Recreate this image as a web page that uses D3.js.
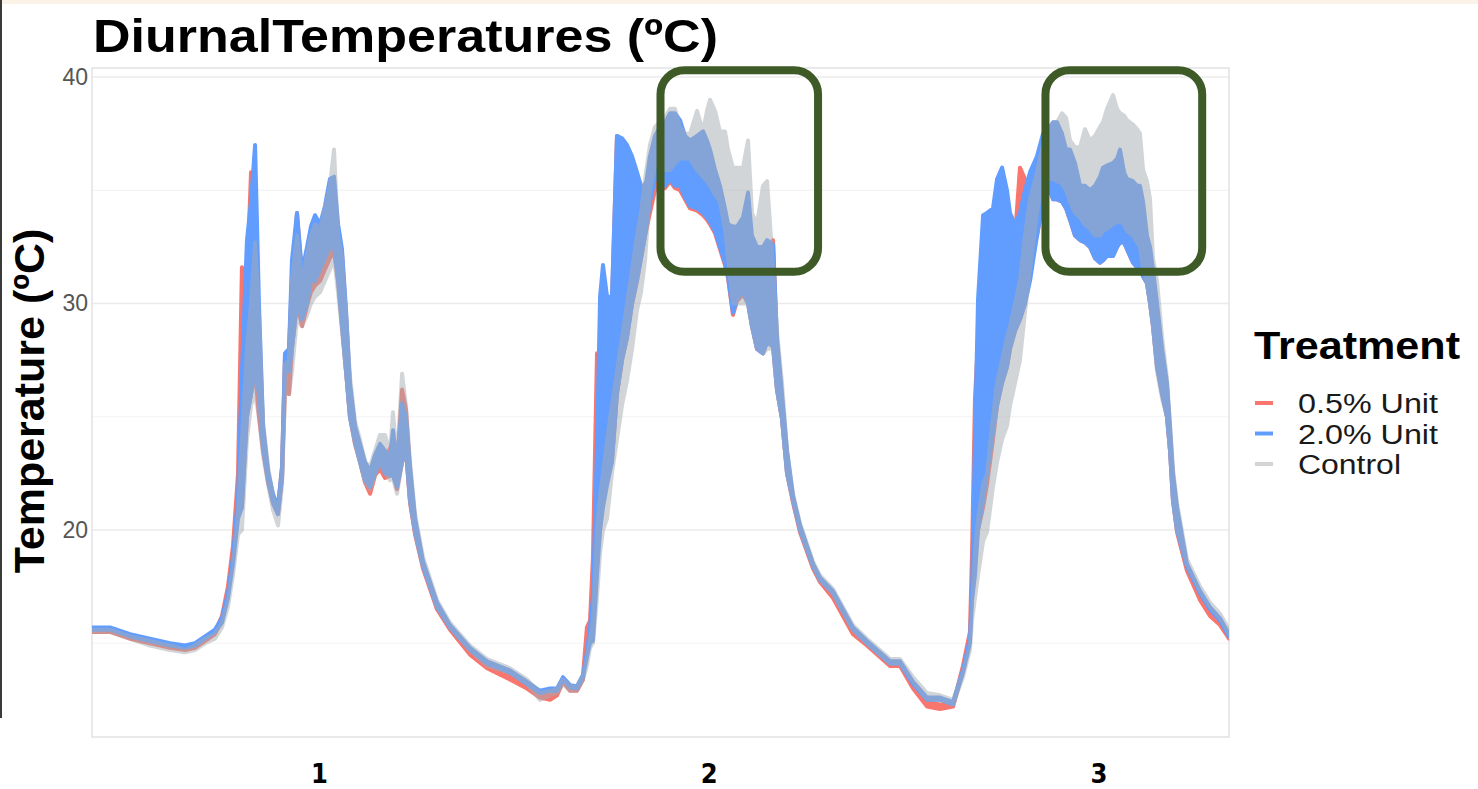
<!DOCTYPE html>
<html>
<head>
<meta charset="utf-8">
<script src="https://cdn.jsdelivr.net/npm/d3@7"></script>
<style>
  body { margin: 0; background: #fff; }
  svg { display: block; font-family: "Liberation Sans", Arial, Helvetica, sans-serif; }
</style>
</head>
<body>
<svg id="chart"></svg>
<script>
// hours since start of logging (x axis)
const hours = [
  0, 1.11, 2.34, 3.57, 4.80, 5.73, 6.34, 6.96, 7.57, 8.00, 8.37, 8.68, 8.99,
  9.23, 9.54, 9.79, 10.04, 10.28, 10.53, 10.84, 11.14, 11.45, 11.70,
  11.88, 12.13, 12.31, 12.62, 12.93, 13.24, 13.48, 13.73, 14.04, 14.34,
  14.65, 14.90, 15.15, 15.39, 15.64, 15.88, 16.19, 16.50, 16.81, 17.12,
  17.42, 17.73, 18.04, 18.35, 18.53, 18.78, 19.09, 19.33, 19.58, 19.89,
  20.38, 21.24, 22.04, 23.27, 24.32, 25.73, 26.78, 27.58, 28.20, 28.63,
  29.00, 29.43, 29.86, 30.23, 30.47, 30.66, 30.84, 31.09, 31.28, 31.46,
  31.71, 32.01, 32.32, 32.63, 32.94, 33.25, 33.55, 33.80, 34.05, 34.35,
  34.66, 34.97, 35.28, 35.59, 35.89, 36.20, 36.51, 36.82, 37.25, 37.62,
  37.86, 38.05, 38.36, 38.66, 38.97, 39.16, 39.46, 39.71, 40.08, 40.39,
  40.63, 40.94, 41.31, 41.56, 41.93, 42.17, 42.48, 42.79, 43.16, 43.59,
  44.39, 44.82, 45.62, 46.85, 47.71, 49.13, 49.75, 50.55, 51.41, 52.21,
  53.01, 53.62, 54.05, 54.18, 54.36, 54.55, 54.86, 55.10, 55.47, 55.72,
  56.03, 56.33, 56.52, 56.83, 57.13, 57.44, 57.75, 58.18, 58.55, 58.98,
  59.17, 59.41, 59.72, 59.97, 60.21, 60.52, 60.83, 61.13, 61.44, 61.75,
  62.06, 62.24, 62.49, 62.86, 63.11, 63.29, 63.54, 63.72, 64.09, 64.34,
  64.52, 64.71, 64.95, 65.14, 65.32, 65.57, 65.88, 66.18, 66.37, 66.55,
  66.80, 67.41, 68.22, 68.83, 69.45, 70.00
];

// 0.5% Unit - lowest / highest reading at each time
const unit05Lo = [
  15.5, 15.5, 15.2, 15.0, 14.8, 14.7, 14.8, 15.1, 15.4, 16.0, 17.2, 18.8, 21.5,
  21, 25, 26, 27, 25, 23.5, 22.1, 21.2, 20.7, 22.3,
  26.2, 26, 28, 30, 29, 29.9, 30.5, 30.8, 31, 31.5,
  32, 32.3, 31, 29, 27, 25, 23.8, 23, 22.1, 21.6,
  22.4, 22.7, 22.3, 22.4, 22.5, 21.8, 23, 23.5, 21.2, 19.8,
  18.3, 16.5, 15.6, 14.5, 13.9, 13.4, 13.0, 12.6, 12.5, 12.7,
  13.3, 12.9, 12.9, 13.4, 15.5, 15.7, 15.7, 18.8, 20, 22,
  22.5, 23, 26, 27.5, 28.5, 30, 31, 32, 33, 34,
  35, 35.3, 35.1, 35.4, 35.1, 35.0, 34.6, 34.2, 34.1, 33.9,
  33.7, 33.5, 33.1, 32.4, 31.7, 31.1, 29.5, 30.1, 30.4, 30,
  29, 28, 27.8, 28.3, 28.1, 26.2, 24.9, 22.5, 21.2, 19.9,
  18.3, 17.7, 17.0, 15.4, 14.9, 14.0, 14.0, 13.0, 12.2, 12.1,
  12.2, 13.8, 15.2, 17.5, 19, 20, 21, 22, 24, 25.5,
  26.5, 27.2, 28, 28.8, 29.3, 30, 32, 33, 34.5, 35,
  34.6, 34.6, 34.5, 34.2, 33.7, 33, 32.8, 32.7, 32.5, 32,
  31.8, 31.9, 32.1, 32.1, 32.5, 32.7, 32.7, 32.4, 31.8, 31.6,
  31.5, 31.2, 30.9, 30, 29, 27.2, 26, 25, 23.5, 21.3,
  19.9, 18.2, 16.9, 16.2, 15.8, 15.2
];
const unit05Hi = [
  15.6, 15.6, 15.3, 15.1, 14.9, 14.8, 14.9, 15.2, 15.5, 16.2, 17.5, 19.3, 22.5,
  31.6, 31, 35.8, 33, 29, 24.5, 22.5, 21.5, 21.0, 22.8,
  27.6, 28, 31, 34, 31, 31.5, 32.5, 32.8, 32.8, 33.5,
  34, 34.5, 33, 32.2, 29.5, 26.3, 24.5, 23.6, 22.8, 22.4,
  23.1, 23.5, 23.2, 23.6, 24, 22.8, 26.2, 25.3, 22.6, 20.4,
  18.5, 16.7, 15.7, 14.7, 14.1, 13.6, 13.2, 12.8, 12.7, 12.9,
  13.4, 13.0, 13.0, 13.6, 15.7, 16.0, 18.8, 27.8, 27.8, 30,
  30, 30, 37.4, 37, 36, 35.5, 35.5, 35, 35.3, 35.5,
  36, 35.8, 35.4, 35.7, 35.4, 35.3, 34.9, 34.5, 34.4, 34.2,
  34, 33.8, 33.4, 32.7, 32, 31.4, 31, 31.5, 32, 33,
  31, 30, 30, 31, 32.8, 28.3, 25.8, 23.3, 21.4, 20.1,
  18.5, 17.8, 17.1, 15.5, 15.0, 14.1, 14.1, 13.2, 12.4, 12.3,
  12.3, 14.0, 15.5, 19, 25.8, 28.4, 33, 32, 33, 34,
  34.5, 34, 33.5, 33, 36, 35.5, 34, 35, 35.5, 36,
  35.5, 35.3, 35, 34.6, 34.2, 33.5, 33.2, 33.1, 32.9, 32.4,
  32.2, 32.3, 32.5, 32.5, 32.9, 33.1, 33.1, 32.8, 32.2, 32,
  31.9, 31.6, 31.3, 31, 30.5, 29.5, 27.8, 26.3, 24.3, 22.3,
  20.8, 18.4, 17.1, 16.4, 15.9, 15.3
];

// 2.0% Unit
const unit20Lo = [
  15.6, 15.6, 15.3, 15.1, 14.9, 14.8, 14.9, 15.2, 15.5, 15.9, 17.0, 18.5, 20.5,
  21, 25, 26, 27, 26, 23.6, 22.2, 21.2, 20.7, 22.3,
  27.2, 27, 28, 30, 29.3, 30, 31, 31, 31.5, 32,
  32.5, 32.5, 31, 29, 27, 25, 23.9, 23, 22.2, 21.9,
  22.5, 23, 22.5, 22.4, 22.4, 21.9, 23, 23.5, 21.3, 19.9,
  18.4, 16.6, 15.7, 14.7, 14.1, 13.7, 13.2, 12.8, 12.9, 12.9,
  13.4, 13.05, 13.0, 13.5, 14.4, 15.0, 15.1, 18, 20, 21,
  22, 23, 26, 27.5, 28.5, 30, 31, 32, 33, 34.5,
  35.5, 35.5, 35.2, 35.5, 35.2, 35.2, 34.7, 34.3, 34.2, 34,
  33.8, 33.6, 33.2, 32.5, 31.8, 31.2, 29.6, 30.2, 30.5, 30,
  29, 28, 27.8, 28.3, 28.1, 26.2, 24.9, 22.5, 21.3, 20,
  18.4, 17.8, 17.2, 15.6, 15.0, 14.1, 14.1, 13.2, 12.5, 12.5,
  12.3, 13.7, 15.0, 16.9, 18, 20, 21.3, 22.5, 24.3, 25.5,
  26.5, 27.2, 28, 28.8, 29.3, 30, 31, 33, 34.5, 35,
  34.6, 34.6, 34.5, 34.2, 33.7, 33, 32.8, 32.7, 32.5, 32,
  31.8, 31.9, 32.1, 32.1, 32.5, 32.7, 32.7, 32.4, 31.8, 31.6,
  31.5, 31.2, 30.9, 30, 29, 27.2, 26, 25, 23.5, 21.3,
  20, 18.4, 17.2, 16.5, 16.0, 15.3
];
const unit20Hi = [
  15.7, 15.7, 15.4, 15.2, 15.0, 14.9, 15.0, 15.3, 15.6, 16.1, 17.2, 18.8, 21.5,
  27, 32.8, 34.5, 37.0, 30, 24.6, 22.6, 21.6, 21.0, 22.8,
  27.8, 28, 31.9, 34, 31.4, 32.5, 33.4, 33.9, 33.5, 34.3,
  35.5, 35.6, 33.5, 32.4, 29.7, 26.5, 24.6, 23.8, 23, 22.6,
  23.3, 23.8, 23.5, 23.2, 24.4, 23, 25.6, 25, 22.8, 20.5,
  18.6, 16.8, 15.8, 14.8, 14.2, 13.8, 13.3, 12.9, 13.0, 13.0,
  13.5, 13.15, 13.1, 13.6, 14.6, 15.7, 17, 23.7, 30.3, 31.7,
  30.3, 30.3, 37.4, 37.3, 37, 36.5, 35.8, 35.2, 35.0, 36.5,
  37.4, 37.8, 38.0, 38.4, 38.4, 38.1, 37.4, 37.2, 37.4, 37.6,
  37.2, 36.8, 35.9, 35.2, 34.2, 33.5, 33.4, 33.4, 33.8, 34.9,
  33, 32.5, 32.5, 32.8, 32.6, 28.5, 26, 23.5, 21.5, 20.2,
  18.5, 17.9, 17.3, 15.7, 15.1, 14.2, 14.2, 13.3, 12.6, 12.6,
  12.4, 13.8, 15.2, 17.2, 24, 30.2, 33.9, 34, 34.2, 35.5,
  36, 35, 34, 33.5, 34, 35, 35.8, 36.5, 37.5, 37.8,
  38, 38, 37.5, 36.8, 36.8, 36.2, 35.2, 35.2, 35, 35.2,
  35.6, 36, 36.1, 36.2, 36.4, 36.8, 35.8, 35.5, 35.4, 35.2,
  35.2, 34.5, 33, 32.5, 31.5, 30, 28, 26.5, 24.5, 22.5,
  21, 18.5, 17.3, 16.6, 16.1, 15.4
];

// Control
const controlLo = [
  15.5, 15.5, 15.2, 14.9, 14.7, 14.6, 14.7, 15.0, 15.2, 15.7, 16.6, 18.0, 19.8,
  20, 24, 25.5, 26, 25, 23.3, 22, 20.9, 20.2, 22,
  26, 26, 27, 29.3, 29, 29.5, 30, 30.3, 30.5, 31,
  31.5, 32, 30.5, 28.8, 27, 25, 23.8, 23, 22.1, 21.8,
  22.4, 23, 22.5, 22.2, 22.3, 21.6, 23, 23.5, 21.3, 19.9,
  18.4, 16.6, 15.7, 14.7, 14.0, 13.7, 13.2, 12.5, 12.7, 12.8,
  13.2, 12.9, 12.9, 13.4, 14.0, 14.8, 15.0, 17, 19, 20,
  20.5, 22.5, 24, 25.5, 26.6, 28, 29.7, 30.5, 31.9, 35,
  36, 36.5, 35.9, 35.9, 36.2, 36.4, 36.4, 36.4, 35.9, 35.6,
  35.4, 35.2, 34.8, 34.5, 33.3, 32, 30, 30, 30, 30,
  29, 28, 27.8, 28, 28, 26.2, 24.9, 22.5, 21.3, 20,
  18.4, 17.8, 17.2, 15.6, 15.0, 14.1, 14.1, 13.3, 12.5, 12.5,
  12.3, 13.5, 14.7, 16.0, 17, 18, 19.5, 19.9, 21.9, 23,
  24, 24.6, 25.5, 26.5, 27.5, 29.6, 31.5, 34, 35.5, 35.5,
  35.5, 35.4, 35.3, 35, 34.5, 34, 33.8, 33.5, 33.3, 33,
  33, 33.2, 33.3, 33.5, 33.6, 33.6, 33.5, 33.2, 33, 32.7,
  32.5, 31.5, 30.9, 30, 29, 27, 25.8, 25, 23.5, 21.3,
  20, 18.5, 17.3, 16.6, 16.1, 15.4
];
const controlHi = [
  15.6, 15.6, 15.3, 15.1, 14.9, 14.7, 14.9, 15.2, 15.4, 15.9, 16.9, 18.4, 20.8,
  24, 28, 30, 32.7, 29.5, 24.8, 22.8, 21.5, 20.8, 22.5,
  27.3, 27.5, 31, 33, 31, 32.2, 33, 33.5, 33.3, 34.2,
  35.2, 36.8, 33, 32, 29.5, 26.8, 24.8, 24, 23, 22.8,
  23.5, 24.2, 24.2, 23.4, 25.2, 23, 26.9, 25.5, 23, 20.7,
  18.8, 16.9, 15.9, 14.9, 14.3, 13.9, 13.4, 12.8, 12.9, 13.0,
  13.4, 13.1, 13.1, 13.6, 14.3, 15.2, 16, 20, 21.5, 22.5,
  24, 25.5, 27, 28.5, 30, 31.5, 33, 34, 35.5, 37,
  37.8, 38, 38.2, 38.6, 38.6, 37.8, 37.5, 37.5, 38.5, 37.6,
  38.5, 39, 38.5, 37.6, 37.6, 36.8, 36, 36, 36, 37.2,
  34, 33.5, 35.2, 35.4, 31.6, 28.8, 26.5, 23.5, 21.6, 20.3,
  18.6, 18.0, 17.4, 15.8, 15.2, 14.3, 14.3, 13.5, 12.8, 12.7,
  12.5, 13.7, 14.9, 16.4, 19, 20.5, 22, 22.5, 25, 26.5,
  27.5, 28.5, 29, 30, 31, 33, 34.6, 35.8, 37, 37.8,
  38, 38, 38.4, 38.2, 37.2, 36.9, 36.9, 37.7, 37.2, 37.4,
  37.8, 38, 38.6, 39.2, 38.6, 38.4, 38.3, 38.1, 37.9, 37.7,
  37.5, 35.9, 35.4, 34.6, 32, 31, 28.5, 26.7, 24.7, 22.7,
  21.2, 18.7, 17.5, 16.8, 16.3, 15.6
];

const treatments = ["0.5% Unit", "2.0% Unit", "Control"];
const yTicks = [20, 30, 40];
const yMinorTicks = [15, 25, 35];
const dayLabels = ["1", "2", "3"];
const dayHours = [14, 38, 62];
// hot afternoon windows that were boxed on the slide (hours / degrees)
const boxHours = [[35.0, 44.7], [58.7, 68.35]];
const boxTemps = [31.4, 40.3];

const width = 1478, height = 789;
const margin = { top: 68, right: 249, bottom: 52, left: 92 };

const svg = d3.select("#chart").attr("width", width).attr("height", height);

const x = d3.scaleLinear().domain([0, 70]).range([margin.left, width - margin.right]);
const y = d3.scaleLinear().domain([10.86, 40.4]).range([height - margin.bottom, margin.top]);

// slide edges
svg.append("rect").attr("x", 0).attr("y", 0).attr("width", width).attr("height", 4).attr("fill", "#fcf3e8");
svg.append("rect").attr("x", 0).attr("y", 0).attr("width", 2).attr("height", 718).attr("fill", "#3a3a3a");

// panel + grid
svg.append("g").selectAll("line").data(yMinorTicks).join("line")
  .attr("x1", x(0)).attr("x2", x(70))
  .attr("y1", d => y(d)).attr("y2", d => y(d))
  .attr("stroke", "#f3f3f3").attr("stroke-width", 1.2);
svg.append("g").selectAll("line").data(yTicks).join("line")
  .attr("x1", x(0)).attr("x2", x(70))
  .attr("y1", d => y(d)).attr("y2", d => y(d))
  .attr("stroke", "#ebebeb").attr("stroke-width", 1.5);
svg.append("rect")
  .attr("x", x(0)).attr("y", margin.top)
  .attr("width", x(70) - x(0)).attr("height", height - margin.bottom - margin.top)
  .attr("fill", "none").attr("stroke", "#e2e2e2").attr("stroke-width", 1.5);

// y axis labels (no tick marks, ggplot minimal style)
function yAxis(g) {
  g.attr("transform", `translate(${margin.left - 4}, 0)`)
    .call(d3.axisLeft(y).tickValues(yTicks).tickSize(0).tickPadding(0))
    .call(g => g.select(".domain").remove())
    .selectAll("text")
    .attr("font-size", "23px")
    .attr("font-family", "Liberation Sans, Arial, sans-serif")
    .attr("fill", "#555");
}
svg.append("g").call(yAxis);

// series
const series = [
  { name: treatments[0], color: "#F8766D", opacity: 1, lo: unit05Lo, hi: unit05Hi },
  { name: treatments[1], color: "#619CFF", opacity: 1, lo: unit20Lo, hi: unit20Hi },
  { name: treatments[2], color: "#A7ADB3", opacity: 0.5, lo: controlLo, hi: controlHi }
];

svg.append("clipPath").attr("id", "panel")
  .append("rect").attr("x", x(0)).attr("y", margin.top)
  .attr("width", x(70) - x(0)).attr("height", height - margin.bottom - margin.top);

const band = d3.area()
  .x(d => x(d.h))
  .y0(d => y(d.lo))
  .y1(d => y(d.hi));

svg.append("g").attr("clip-path", "url(#panel)")
  .selectAll("path")
  .data(series)
  .join("path")
  .attr("d", s => band(hours.map((h, i) => ({ h: h, lo: s.lo[i], hi: s.hi[i] }))))
  .attr("fill", s => s.color)
  .attr("stroke", s => s.color)
  .attr("stroke-width", 4)
  .attr("stroke-linejoin", "round")
  .attr("opacity", s => s.opacity);

// green highlight boxes
svg.append("g").selectAll("rect")
  .data(boxHours)
  .join("rect")
  .attr("x", d => x(d[0]))
  .attr("y", y(boxTemps[1]))
  .attr("width", d => x(d[1]) - x(d[0]))
  .attr("height", y(boxTemps[0]) - y(boxTemps[1]))
  .attr("rx", 24).attr("ry", 24)
  .attr("fill", "none")
  .attr("stroke", "#3d5a27")
  .attr("stroke-width", 8);

// day labels under the panel
svg.append("g").selectAll("text")
  .data(dayLabels)
  .join("text")
  .attr("x", (d, i) => x(dayHours[i]))
  .attr("y", 783)
  .attr("text-anchor", "middle")
  .attr("font-family", "Liberation Sans Narrow, DejaVu Sans Condensed, Arial Narrow, sans-serif")
  .attr("font-weight", "bold")
  .attr("font-size", "27px")
  .attr("fill", "#000")
  .text(d => d);

// titles
svg.append("text")
  .attr("x", 93).attr("y", 52)
  .attr("font-size", "47px").attr("font-weight", "bold").attr("fill", "#000")
  .attr("textLength", 625).attr("lengthAdjust", "spacingAndGlyphs")
  .text("DiurnalTemperatures (ºC)");

svg.append("text")
  .attr("transform", "translate(44, 401) rotate(-90)")
  .attr("text-anchor", "middle")
  .attr("font-size", "43px").attr("font-weight", "bold").attr("fill", "#000")
  .text("Temperature (ºC)");

// legend
const legend = svg.append("g").attr("transform", "translate(1254, 0)");
legend.append("text")
  .attr("x", 0).attr("y", 359)
  .attr("font-size", "39px").attr("font-weight", "bold").attr("fill", "#000")
  .attr("textLength", 206).attr("lengthAdjust", "spacingAndGlyphs")
  .text("Treatment");

const items = legend.selectAll("g.item")
  .data(series)
  .join("g")
  .attr("class", "item")
  .attr("transform", (d, i) => `translate(0, ${403 + i * 30.5})`);

items.append("line")
  .attr("x1", 1).attr("x2", 19)
  .attr("stroke", d => d.color)
  .attr("stroke-width", 4)
  .attr("opacity", d => d.opacity);

items.append("text")
  .attr("x", 44).attr("y", 10)
  .attr("font-size", "27px").attr("fill", "#1a1a1a")
  .attr("textLength", d => d.name === "Control" ? 103 : 140)
  .attr("lengthAdjust", "spacingAndGlyphs")
  .text(d => d.name);
</script>
</body>
</html>
